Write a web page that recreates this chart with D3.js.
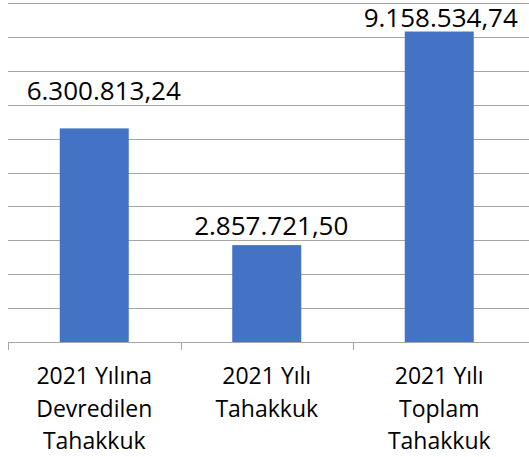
<!DOCTYPE html>
<html>
<head>
<meta charset="utf-8">
<script src="https://cdn.jsdelivr.net/npm/d3@7"></script>
<style>
  body { margin: 0; background: #fff; }
  text { font-family: "Open Sans", sans-serif; fill: #000; }
</style>
</head>
<body>
<div id="chart"></div>
<script>
// data
let categories = [
  ["2021 Yılına", "Devredilen", "Tahakkuk"],
  ["2021 Yılı", "Tahakkuk"],
  ["2021 Yılı", "Toplam", "Tahakkuk"]
];
let values = [6300813.24, 2857721.50, 9158534.74];
let valueLabels = ["6.300.813,24", "2.857.721,50", "9.158.534,74"];
let yTicks = d3.range(0, 10000001, 1000000);

let width = 529, height = 457;
let plotLeft = 8, plotRight = 525.5, plotTop = 3, plotBottom = 342;

let svg = d3.select("#chart").append("svg")
  .attr("width", width)
  .attr("height", height);

let x = d3.scaleBand()
  .domain(d3.range(values.length))
  .range([plotLeft, plotRight])
  .paddingInner(0.6)
  .paddingOuter(0.3);

let y = d3.scaleLinear()
  .domain([0, 10000000])
  .range([plotBottom, plotTop]);

// gridlines
svg.append("g")
  .selectAll("line")
  .data(yTicks.slice(1))
  .enter()
  .append("line")
  .attr("x1", plotLeft)
  .attr("x2", width)
  .attr("y1", d => Math.round(y(d)) + 0.5)
  .attr("y2", d => Math.round(y(d)) + 0.5)
  .style("stroke", "#a6a6a6")
  .style("stroke-width", 1);

// bars
svg.append("g")
  .selectAll("rect")
  .data(values)
  .enter()
  .append("rect")
  .attr("x", (d, i) => x(i))
  .attr("width", x.bandwidth())
  .attr("y", d => y(d))
  .attr("height", d => y(0) - y(d))
  .style("fill", "#4472c4");

// x axis line and ticks at category boundaries
let step = x.step();
svg.append("line")
  .attr("x1", plotLeft)
  .attr("x2", width)
  .attr("y1", plotBottom + 0.5)
  .attr("y2", plotBottom + 0.5)
  .style("stroke", "#a6a6a6");

svg.append("g")
  .selectAll("line")
  .data(d3.range(values.length))
  .enter()
  .append("line")
  .attr("x1", i => Math.round(plotLeft + i * step) + 0.5)
  .attr("x2", i => Math.round(plotLeft + i * step) + 0.5)
  .attr("y1", plotBottom)
  .attr("y2", plotBottom + 8)
  .style("stroke", "#a6a6a6");

// value labels (first two were nudged in the original)
let labelShift = [[9.5, -28], [4.5, -10], [1.5, -5]];
svg.append("g")
  .selectAll("text")
  .data(values)
  .enter()
  .append("text")
  .attr("x", (d, i) => x(i) + x.bandwidth() / 2 + labelShift[i][0])
  .attr("y", (d, i) => y(d) + labelShift[i][1])
  .attr("text-anchor", "middle")
  .style("font-size", "26px")
  .text((d, i) => valueLabels[i]);

// category labels
let cat = svg.append("g")
  .selectAll("text")
  .data(categories)
  .enter()
  .append("text")
  .attr("x", (d, i) => x(i) + x.bandwidth() / 2)
  .attr("y", 384)
  .attr("text-anchor", "middle")
  .style("font-size", "23px");

cat.selectAll("tspan")
  .data(d => d)
  .enter()
  .append("tspan")
  .attr("x", function () { return this.parentNode.getAttribute("x"); })
  .attr("dy", (d, j) => j === 0 ? 0 : 32.5)
  .text(d => d);
</script>
</body>
</html>
